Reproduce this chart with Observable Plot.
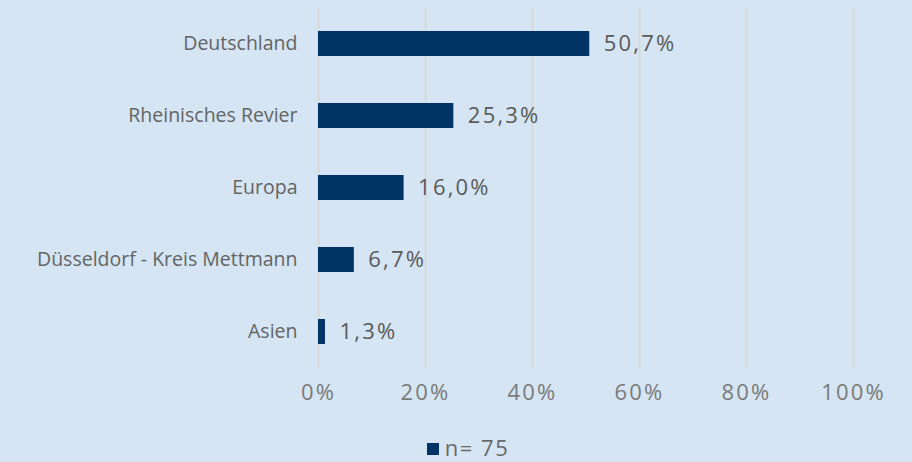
<!DOCTYPE html>
<html>
<head>
<meta charset="utf-8">
<script src="https://cdn.jsdelivr.net/npm/d3@7"></script>
<script src="https://cdn.jsdelivr.net/npm/@observablehq/plot@0.6"></script>
<style>
  html, body { margin: 0; padding: 0; background: #d5e5f3; }
  body { width: 912px; height: 462px; overflow: hidden; font-family: "Open Sans", "Noto Sans", sans-serif; }
  #legend { height: 42px; display: flex; justify-content: center; align-items: flex-end; color: #6a6a6a; font-size: 22px; letter-spacing: 1.5px; padding-left: 24px; padding-bottom: 4px; box-sizing: border-box; line-height: 1; }
  #legend .sw { width: 12px; height: 12px; background: #003466; margin-right: 6px; margin-bottom: 3px; display: inline-block; }
  svg text { letter-spacing: 0; }
  .wide text { letter-spacing: 2.2px; }
</style>
</head>
<body>
<div id="chart"></div>
<div id="legend"><span class="sw"></span><span>n= 75</span></div>
<script>
const categories = ["Deutschland", "Rheinisches Revier", "Europa", "Düsseldorf - Kreis Mettmann", "Asien"];
const values = [50.7, 25.3, 16.0, 6.7, 1.3];
const xTicks = [0, 20, 40, 60, 80, 100];

const data = categories.map((c, i) => ({category: c, value: values[i]}));
const fmt = v => d3.format(".1f")(v).replace(".", ",") + "%";

const plot = Plot.plot({
  width: 912,
  height: 420,
  marginLeft: 318,
  marginRight: 59,
  marginTop: 8,
  marginBottom: 52,
  style: {background: "transparent", fontFamily: "'Open Sans', 'Noto Sans', sans-serif"},
  x: {domain: [0, 100]},
  y: {domain: categories, paddingInner: 0.65, paddingOuter: 0.325},
  marks: [
    Plot.ruleX(xTicks, {stroke: "#d9d9d9", strokeWidth: 2}),
    Plot.axisX(xTicks, {tickSize: 0, tickPadding: 16, tickFormat: d => d + "%", fontSize: 22, fill: "#7a7a7a", label: null, className: "wide"}),
    Plot.axisY({tickSize: 0, tickPadding: 21, fontSize: 19.5, fill: "#646464", label: null}),
    Plot.barX(data, {x: "value", y: "category", fill: "#003466"}),
    Plot.text(data, {x: "value", y: "category", text: d => fmt(d.value), textAnchor: "start", dx: 14, fontSize: 22, fill: "#5a5a5a", className: "wide"})
  ]
});
document.getElementById("chart").appendChild(plot);
</script>
</body>
</html>
